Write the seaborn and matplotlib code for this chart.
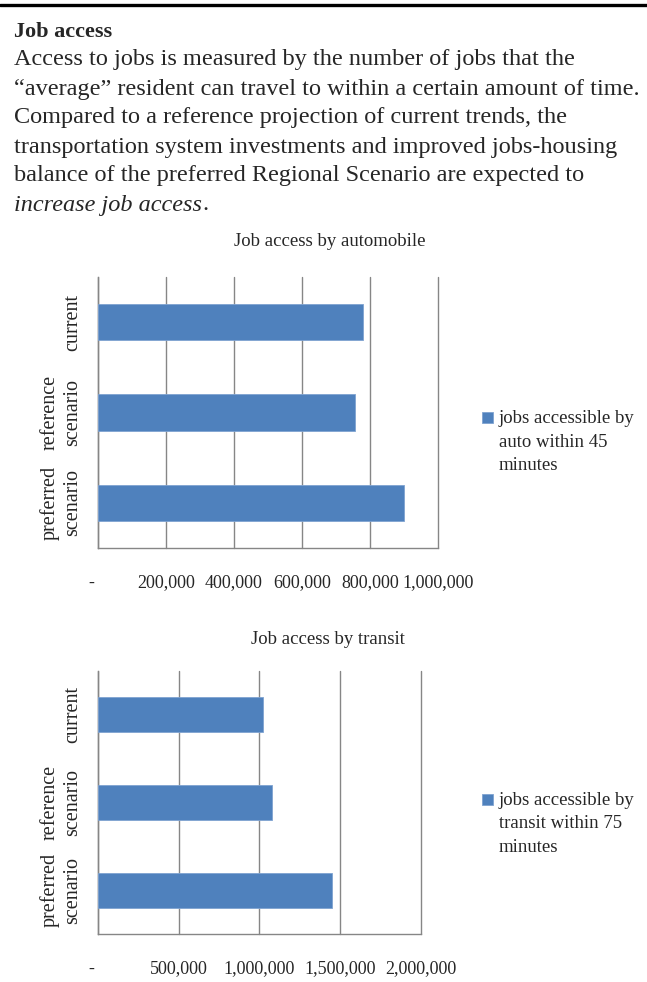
import numpy as np
import pandas as pd
import matplotlib
matplotlib.use("Agg")
import matplotlib.pyplot as plt
import matplotlib.transforms as mtransforms
import seaborn as sns
from matplotlib.lines import Line2D
from matplotlib.patches import Rectangle
from matplotlib.container import BarContainer
from matplotlib.legend_handler import HandlerPatch

# data
scenarios = ["current", "reference\nscenario", "preferred\nscenario"]
auto_jobs = [780000, 757000, 900000]
transit_jobs = [1025000, 1076000, 1448000]
auto_ticks = [0, 200000, 400000, 600000, 800000, 1000000]
transit_ticks = [0, 500000, 1000000, 1500000, 2000000]
auto_label = "jobs accessible by\nauto within 45\nminutes"
transit_label = "jobs accessible by\ntransit within 75\nminutes"
auto_title = "Job access by automobile"
transit_title = "Job access by transit"

heading = "Job access"
body_lines = [
    "Access to jobs is measured by the number of jobs that the",
    "\u201caverage\u201d resident can travel to within a certain amount of time.",
    "Compared to a reference projection of current trends, the",
    "transportation system investments and improved jobs-housing",
    "balance of the preferred Regional Scenario are expected to",
]
italic_part = "increase job access"

W, H = 647, 982
BAR = "#4F81BD"
GRID = "#868686"
BODY = 17.5
LEG_FS = 13.5
LEG_SPACING = 1.5

sns.set_style("white")
plt.rcParams["font.family"] = ["Liberation Serif", "DejaVu Serif"]

fig = plt.figure(figsize=(W / 100, H / 100), dpi=100)


def fx(x):
    return x / W


def fy(y):
    return 1 - y / H


# rule across the top of the page
fig.add_artist(Line2D([0, 1], [fy(5), fy(5)], color="black", lw=2.4))

# paragraph above the charts
fig.text(fx(14), fy(32), heading, fontsize=16, fontweight="bold", va="center")
for i, line in enumerate(body_lines):
    fig.text(fx(14), fy(60 + 29 * i), line, fontsize=BODY, va="center")
last_y = fy(60 + 29 * len(body_lines))
it = fig.text(fx(14), last_y, italic_part, fontsize=BODY, style="italic", va="center")
r = fig.canvas.get_renderer()
bb = it.get_window_extent(renderer=r)
fig.text(bb.x1 / W, last_y, ".", fontsize=BODY, va="center")


def top_square(legend, orig_handle, xdescent, ydescent, width, height, fontsize):
    # square next to the first line of a three-line label (default sits on the middle one)
    s = 0.58 * fontsize
    step = 17.3
    y0 = -ydescent + 0.35 * fontsize - s / 2 + step
    return Rectangle((-xdescent + width - s, y0), s, s)


def first_child(legend_handle, orig_handle):
    legend_handle.update_from(orig_handle[0])


def job_chart(rect, values, ticks, label, title, title_xy, legend_xy):
    ax = fig.add_axes(rect)
    df = pd.DataFrame({"scenario": scenarios, "jobs": values})
    sns.barplot(data=df, y="scenario", x="jobs", orient="h", color=BAR,
                saturation=1, width=0.4, edgecolor="#7fa3d1", linewidth=0.6,
                ax=ax, label=label, zorder=3)
    ax.set_xlim(ticks[0], ticks[-1])
    ax.set_ylim(2.5, -0.5)
    ax.set_xticks(ticks)
    ax.set_xticklabels(["-"] + [f"{t:,}" for t in ticks[1:]], fontsize=13)
    ax.set_yticks(range(len(scenarios)))
    ax.set_yticklabels(scenarios, rotation=90, va="center", ha="right",
                       multialignment="center", fontsize=14.5, linespacing=1.3)
    ax.set_yticks([-0.5, 0.5, 1.5, 2.5], minor=True)
    ax.tick_params(axis="y", which="major", length=0, pad=11)
    ax.tick_params(axis="y", which="minor", length=4, color=GRID, width=1)
    ax.tick_params(axis="x", length=4, color=GRID, width=1, pad=15)
    ax.xaxis.grid(True, color=GRID, lw=1, zorder=0)
    for gl in ax.get_xgridlines():
        gl.set_clip_on(False)
    ax.set_axisbelow(True)
    for side in ["top", "right"]:
        ax.spines[side].set_visible(False)
    for side in ["left", "bottom"]:
        ax.spines[side].set_color(GRID)
        ax.spines[side].set_linewidth(1)
    ax.set_xlabel("")
    ax.set_ylabel("")
    # the zero label sits a little left of the axis
    zero = ax.get_xticklabels()[0]
    zero.set_transform(zero.get_transform() + mtransforms.ScaledTranslation(-0.06, 0, fig.dpi_scale_trans))
    fig.text(fx(title_xy[0]), fy(title_xy[1]), title, fontsize=13.5, ha="center", va="center")
    leg = ax.legend(loc="upper left", bbox_to_anchor=(fx(legend_xy[0]), fy(legend_xy[1])),
                    bbox_transform=fig.transFigure, frameon=False, fontsize=LEG_FS,
                    handlelength=0.6, handletextpad=0.3, borderpad=0, borderaxespad=0,
                    handler_map={BarContainer: HandlerPatch(patch_func=top_square,
                                                            update_func=first_child)})
    for t in leg.get_texts():
        t.set_linespacing(LEG_SPACING)
    return ax


job_chart([fx(97.7), fy(548), fx(438) - fx(97.7), fy(277) - fy(548)],
          auto_jobs, auto_ticks, auto_label, auto_title, (330, 242), (482, 410))
job_chart([fx(97.7), fy(934), fx(421) - fx(97.7), fy(671) - fy(934)],
          transit_jobs, transit_ticks, transit_label, transit_title, (328, 640), (482, 792))

fig.savefig("out.png", dpi=100)
